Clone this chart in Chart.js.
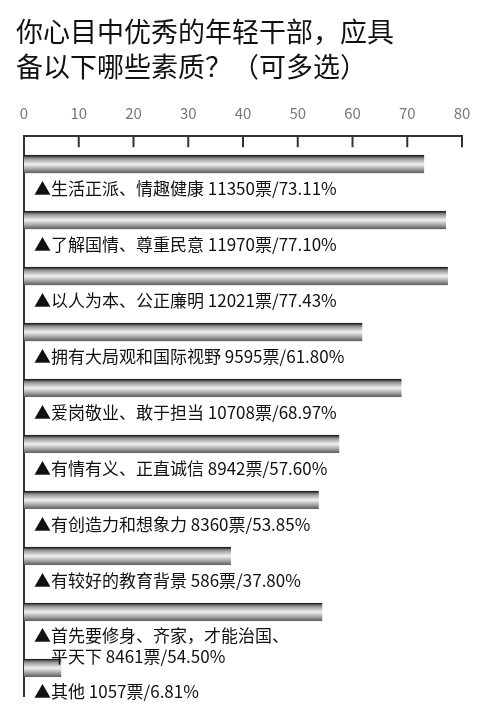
<!DOCTYPE html>
<html>
<head>
<meta charset="utf-8">
<script src="https://cdn.jsdelivr.net/npm/chart.js@4/dist/chart.umd.min.js"></script>
<style>
  html, body { margin: 0; padding: 0; background: #fff; }
  #wrap { width: 500px; height: 718px; }
</style>
</head>
<body>
<div id="wrap"><canvas id="c"></canvas></div>
<script>
const titleLines = ['你心目中优秀的年轻干部，应具', '备以下哪些素质？（可多选）'];
const categories = ['生活正派、情趣健康', '了解国情、尊重民意', '以人为本、公正廉明', '拥有大局观和国际视野',
  '爱岗敬业、敢于担当', '有情有义、正直诚信', '有创造力和想象力', '有较好的教育背景',
  '首先要修身、齐家，才能治国、平天下', '其他'];
const votes = ['11350', '11970', '12021', '9595', '10708', '8942', '8360', '586', '8461', '1057'];
const percents = [73.11, 77.10, 77.43, 61.80, 68.97, 57.60, 53.85, 37.80, 54.50, 6.81];
const tickValues = [0, 10, 20, 30, 40, 50, 60, 70, 80];

const cjk = '"Noto Sans CJK SC", "Noto Sans", sans-serif';

// how each label is split into lines under its bar
const labelLines = (i) => {
    let tail = votes[i] + '票/' + percents[i].toFixed(2) + '%';
    if (i === 8) return ['▲首先要修身、齐家，才能治国、', '　平天下 ' + tail];
    return ['▲' + categories[i] + ' ' + tail];
};

const barFill = (ctx) => {
    let chart = ctx.chart;
    let y = chart.scales.y;
    if (!y || ctx.dataIndex === undefined) return '#aaa';
    let c = y.getPixelForValue(ctx.dataIndex);
    if (!isFinite(c)) return '#aaa';
    let g = chart.ctx.createLinearGradient(0, c - 9, 0, c + 9);
    g.addColorStop(0, '#2a2a2a');
    g.addColorStop(0.2, '#9a9a9a');
    g.addColorStop(0.5, '#f2f2f2');
    g.addColorStop(0.8, '#9a9a9a');
    g.addColorStop(1, '#5a5a5a');
    return g;
};

const decor = {
    id: 'decor',
    afterDatasetsDraw(chart) {
        let ctx = chart.ctx;
        let x = chart.scales.x;
        let top = chart.chartArea.top;
        ctx.save();
        ctx.strokeStyle = '#333';
        ctx.lineWidth = 2;
        tickValues.forEach(v => {
            let px = x.getPixelForValue(v);
            ctx.beginPath();
            ctx.moveTo(px, top);
            ctx.lineTo(px, top + 11);
            ctx.stroke();
        });
        ctx.fillStyle = '#111';
        ctx.font = '17px ' + cjk;
        ctx.textBaseline = 'middle';
        let meta = chart.getDatasetMeta(0);
        meta.data.forEach((bar, i) => {
            labelLines(i).forEach((line, k) => {
                ctx.fillText(line, chart.chartArea.left + 10, bar.y + 24 + k * 21);
            });
        });
        ctx.restore();
    }
};

new Chart(document.getElementById('c'), {
    type: 'bar',
    data: {
        labels: categories,
        datasets: [{
            data: percents,
            backgroundColor: barFill,
            borderColor: '#222',
            borderWidth: { top: 1.5, bottom: 0, left: 0, right: 0 },
            borderSkipped: false,
            barThickness: 18
        }]
    },
    plugins: [decor],
    options: {
        indexAxis: 'y',
        responsive: true,
        maintainAspectRatio: false,
        animation: false,
        layout: { padding: { left: 16, right: 38, bottom: 22, top: 0 } },
        plugins: {
            legend: { display: false },
            tooltip: { enabled: false },
            title: {
                display: true,
                text: titleLines,
                align: 'start',
                color: '#111',
                font: { family: cjk, size: 27, weight: 'normal', lineHeight: 1.3 },
                padding: { top: 14, bottom: 14 }
            }
        },
        scales: {
            x: {
                position: 'top',
                min: 0,
                max: 80,
                ticks: { stepSize: 10, color: '#777', font: { family: cjk, size: 15 }, padding: 6 },
                grid: { display: false },
                border: { display: true, color: '#333', width: 2 }
            },
            y: {
                ticks: { display: false },
                grid: { display: false },
                border: { display: true, color: '#333', width: 2 }
            }
        }
    }
});
</script>
</body>
</html>
